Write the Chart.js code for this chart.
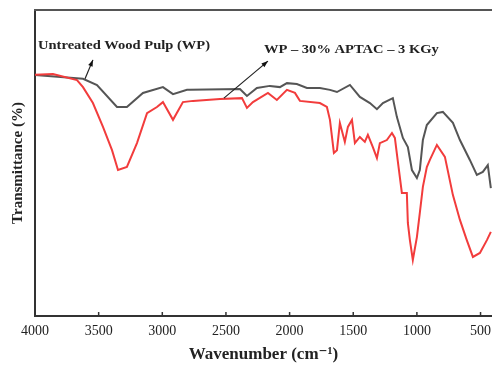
<!DOCTYPE html>
<html>
<head>
<meta charset="utf-8">
<script src="https://cdn.jsdelivr.net/npm/chart.js@4"></script>
<style>
  body { margin: 0; background: #fff; }
</style>
</head>
<body>
<canvas id="ftir" width="492" height="366"></canvas>
<script>
// Untreated wood pulp (grey)
const wpWave = [4000, 3623, 3513, 3356, 3278, 3152, 2995, 2916, 2806, 2783, 2390, 2335, 2257, 2155, 2076, 2021, 1943, 1864, 1762, 1683, 1628, 1526, 1448, 1369, 1314, 1267, 1189, 1157, 1110, 1071, 1039, 1000, 977, 953, 922, 843, 796, 717, 662, 584, 529, 482, 443, 419];
const wpTrans = [78.8, 77.5, 75.5, 68.3, 68.3, 72.9, 74.8, 72.5, 73.9, 73.9, 74.2, 71.9, 74.5, 75.2, 74.8, 76.1, 75.8, 74.5, 74.5, 73.9, 73.2, 75.5, 71.6, 69.6, 67.6, 69.6, 71.2, 65.0, 58.2, 55.2, 47.7, 45.1, 47.7, 57.5, 62.4, 66.3, 66.7, 63.1, 57.5, 51.0, 46.1, 47.1, 49.3, 41.8];

// WP - 30% APTAC - 3 KGy (red)
const graftWave = [4000, 3859, 3670, 3623, 3545, 3466, 3395, 3348, 3278, 3199, 3120, 3042, 2995, 2916, 2838, 2759, 2547, 2374, 2335, 2288, 2170, 2100, 2021, 1958, 1919, 1762, 1707, 1683, 1652, 1628, 1605, 1566, 1542, 1510, 1487, 1448, 1409, 1385, 1346, 1314, 1291, 1236, 1196, 1173, 1149, 1118, 1079, 1071, 1055, 1032, 1000, 977, 953, 922, 898, 843, 780, 717, 662, 608, 560, 505, 450, 419];
const graftTrans = [78.8, 79.1, 77.1, 74.8, 69.6, 61.8, 54.2, 47.7, 48.7, 56.5, 66.3, 68.3, 69.9, 64.1, 69.9, 70.3, 70.9, 71.2, 68.0, 69.9, 72.9, 70.6, 73.9, 72.9, 70.3, 69.6, 68.3, 64.1, 53.3, 54.2, 63.1, 56.9, 61.8, 64.1, 56.5, 58.5, 56.9, 59.2, 55.2, 51.6, 56.5, 57.5, 59.8, 58.2, 50.3, 40.2, 40.2, 30.4, 24.8, 18.3, 25.8, 33.7, 42.2, 48.7, 51.0, 55.9, 52.0, 39.5, 31.4, 24.8, 19.3, 20.6, 24.8, 27.5];

const xTicks = [4000, 3500, 3000, 2500, 2000, 1500, 1000, 500];

const serif = '"Liberation Serif", "DejaVu Serif", serif';

function toPoints(xs, ys) {
    return xs.map(function (x, i) { return { x: x, y: ys[i] }; });
}

// top frame line, inward ticks and the two labels with arrows
const extras = {
    id: "extras",
    afterDraw(chart) {
        const ctx = chart.ctx;
        const area = chart.chartArea;
        const xs = chart.scales.x;
        const ys = chart.scales.y;
        ctx.save();
        ctx.strokeStyle = "#555";
        ctx.lineWidth = 2;
        ctx.beginPath();
        ctx.moveTo(area.left - 1, area.top);
        ctx.lineTo(area.right, area.top);
        ctx.stroke();

        ctx.strokeStyle = "#333";
        ctx.lineWidth = 1.5;
        xTicks.forEach(function (t) {
            const px = xs.getPixelForValue(t);
            ctx.beginPath();
            ctx.moveTo(px, area.bottom);
            ctx.lineTo(px, area.bottom - 4);
            ctx.stroke();
        });

        function arrow(x1, y1, x2, y2) {
            const a = xs.getPixelForValue(x1), b = ys.getPixelForValue(y1);
            const c = xs.getPixelForValue(x2), d = ys.getPixelForValue(y2);
            ctx.strokeStyle = "#222";
            ctx.fillStyle = "#111";
            ctx.lineWidth = 1.2;
            ctx.beginPath();
            ctx.moveTo(a, b);
            ctx.lineTo(c, d);
            ctx.stroke();
            const ang = Math.atan2(d - b, c - a);
            ctx.beginPath();
            ctx.moveTo(c, d);
            ctx.lineTo(c - 7 * Math.cos(ang - 0.35), d - 7 * Math.sin(ang - 0.35));
            ctx.lineTo(c - 7 * Math.cos(ang + 0.35), d - 7 * Math.sin(ang + 0.35));
            ctx.closePath();
            ctx.fill();
        }

        function label(text, x, y, width) {
            const px = xs.getPixelForValue(x), py = ys.getPixelForValue(y);
            ctx.font = "bold 12px " + serif;
            ctx.fillStyle = "#222";
            ctx.textBaseline = "middle";
            const w = ctx.measureText(text).width;
            ctx.save();
            ctx.translate(px, py);
            ctx.scale(width / w, 1);
            ctx.fillText(text, 0, 0);
            ctx.restore();
        }

        arrow(3607, 77.5, 3545, 83.7);
        arrow(2516, 71.2, 2170, 83.3);
        label("Untreated Wood Pulp (WP)", 3976, 88.4, 172);
        label("WP \u2013 30% APTAC \u2013 3 KGy", 2202, 87.0, 175);
        ctx.restore();
    }
};

new Chart(document.getElementById("ftir"), {
    type: "line",
    data: {
        datasets: [
            {
                label: "WP - 30% APTAC - 3 KGy",
                data: toPoints(graftWave, graftTrans),
                borderColor: "#f23c3c",
                borderWidth: 2,
                pointRadius: 0,
                tension: 0,
            },
            {
                label: "Untreated Wood Pulp (WP)",
                data: toPoints(wpWave, wpTrans),
                borderColor: "#555555",
                borderWidth: 2,
                pointRadius: 0,
                tension: 0,
            },
        ],
    },
    options: {
        responsive: false,
        animation: false,
        layout: { padding: { top: 10, right: 0, bottom: 0, left: 0 } },
        plugins: {
            legend: { display: false },
            tooltip: { enabled: false },
        },
        scales: {
            x: {
                type: "linear",
                reverse: true,
                min: 410,
                max: 4000,
                afterBuildTicks: function (scale) {
                    scale.ticks = xTicks.map(function (v) { return { value: v }; });
                },
                afterFit: function (scale) {
                    scale.height = 50;
                    scale.paddingLeft = 0;
                    scale.paddingRight = 0;
                },
                grid: { display: false, drawTicks: false },
                border: { display: true, color: "#333", width: 2 },
                ticks: {
                    padding: 7,
                    maxRotation: 0,
                    color: "#222",
                    font: { family: serif, size: 14 },
                    callback: function (v) { return String(v); },
                },
                title: {
                    display: true,
                    text: "Wavenumber (cm\u207B\u00B9)",
                    color: "#222",
                    font: { family: serif, size: 17, weight: "bold" },
                    padding: { top: 0, bottom: 1 },
                },
            },
            y: {
                min: 0,
                max: 100,
                afterFit: function (scale) { scale.width = 35; },
                grid: { display: false, drawTicks: false },
                border: { display: true, color: "#333", width: 2 },
                ticks: { display: false },
                title: {
                    display: true,
                    text: "Transmittance (%)",
                    color: "#222",
                    font: { family: serif, size: 15, weight: "bold" },
                    padding: { top: 9, bottom: 0 },
                },
            },
        },
    },
    plugins: [extras],
});
</script>
</body>
</html>
